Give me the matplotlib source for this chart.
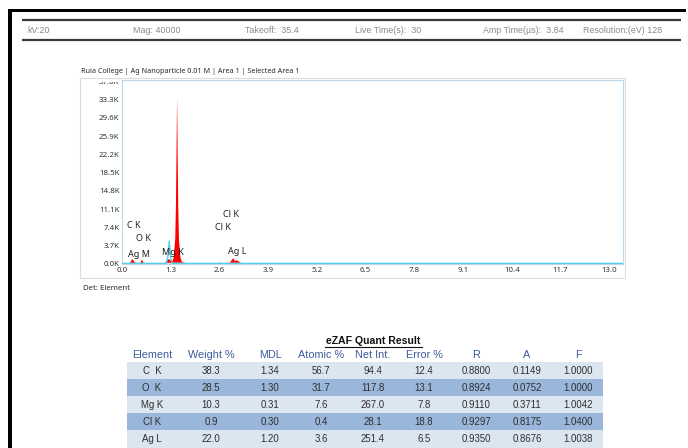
import matplotlib
matplotlib.use("Agg")
import matplotlib.pyplot as plt
import numpy as np
from matplotlib.patches import Rectangle
from matplotlib.transforms import Bbox, TransformedBbox

# ---------------- data ----------------
header_labels = ["kV:20", "Mag: 40000", "Takeoff:  35.4", "Live Time(s):  30",
                 "Amp Time(\u00b5s):  3.84", "Resolution:(eV) 128"]
chart_title = "Ruia College | Ag Nanoparticle 0.01 M | Area 1 | Selected Area 1"

spec_energy = [0.00, 0.15, 0.22, 0.28, 0.34, 0.45, 0.50, 0.53, 0.57, 0.70,
               1.15, 1.20, 1.25, 1.30, 1.34, 1.38, 1.42, 1.44, 1.47, 1.50,
               1.52, 1.56, 1.60, 1.70, 2.60, 2.62, 2.66, 2.88, 2.93, 2.97,
               3.01, 3.07, 3.12, 3.16, 3.22, 3.50, 13.37]
spec_counts = [0, 150, 350, 1000, 350, 200, 350, 900, 300, 200,
               250, 700, 1000, 700, 500, 1300, 5000, 12000, 34000, 12000,
               5000, 1300, 400, 250, 200, 350, 200, 300, 800, 1200,
               600, 750, 500, 300, 200, 150, 0]

fit_energy = [0.00, 1.18, 1.22, 1.26, 1.30, 1.34, 13.37]
fit_counts = [120, 120, 1300, 4600, 1300, 120, 120]

label_text = ["C K", "O K", "Ag M", "Mg K", "Cl K", "Cl K", "Ag L"]
label_energy = [0.13, 0.37, 0.16, 1.07, 2.70, 2.48, 2.83]
label_counts = [7900, 5100, 2000, 2400, 10100, 7500, 2600]

xtick_vals = [0.0, 1.3, 2.6, 3.9, 5.2, 6.5, 7.8, 9.1, 10.4, 11.7, 13.0]
ytick_vals = [0, 3700, 7400, 11100, 14800, 18500, 22200, 25900, 29600, 33300, 37000]

table_title = "eZAF Quant Result"
table_columns = ["Element", "Weight %", "MDL", "Atomic %", "Net Int.", "Error %", "R", "A", "F"]
elements = ["C  K", "O  K", "Mg K", "Cl K", "Ag L"]
weight_pct = ["38.3", "28.5", "10.3", "0.9", "22.0"]
mdl = ["1.34", "1.30", "0.31", "0.30", "1.20"]
atomic_pct = ["56.7", "31.7", "7.6", "0.4", "3.6"]
net_int = ["94.4", "117.8", "267.0", "28.1", "251.4"]
error_pct = ["12.4", "13.1", "7.8", "18.8", "6.5"]
r_vals = ["0.8800", "0.8924", "0.9110", "0.9297", "0.9350"]
a_vals = ["0.1149", "0.0752", "0.3711", "0.8175", "0.8676"]
f_vals = ["1.0000", "1.0000", "1.0042", "1.0400", "1.0038"]

# ---------------- figure ----------------
W, H = 688, 448
fig = plt.figure(figsize=(W / 100, H / 100), dpi=100)
bg = fig.add_axes([0, 0, 1, 1])
bg.set_xlim(0, W)
bg.set_ylim(H, 0)
bg.axis("off")

# black frame (top and left)
bg.add_patch(Rectangle((8, 9), 678, 3.5, color="black", lw=0))
bg.add_patch(Rectangle((8, 9), 4, H, color="black", lw=0))

# header lines and text
for yy in (20.5, 40):
    bg.plot([22, 681], [yy, yy], color="#3a3a3a", lw=1.6, solid_capstyle="butt")
header_x = [27, 133, 245, 355, 483, 583]
for t, x in zip(header_labels, header_x):
    bg.text(x, 30.5, t, fontsize=6.4, color="#8a8a8a", family="Liberation Sans",
            ha="left", va="center")

# chart outer box
bg.add_patch(Rectangle((80, 78), 545, 200, fill=False, ec="#dcdcdc", lw=0.8))
bg.text(81, 71.5, chart_title, fontsize=5.2, color="#2a2a2a", family="Noto Sans",
        ha="left", va="center")
bg.text(83, 288, "Det: Element", fontsize=5.6, color="#2a2a2a", family="Noto Sans",
        ha="left", va="center")

# table
col_x = [152, 211, 270, 321, 373, 424, 476, 527, 578]
row_y = [371, 388, 405, 422, 439]
row_cols = ["#dce6f1", "#9ab6da"]
for i, yy in enumerate(row_y):
    bg.add_patch(Rectangle((127, yy - 8.6), 476, 17.2, color=row_cols[i % 2], lw=0))
bg.text(373, 341.5, table_title, fontsize=7.6, fontweight="bold", color="#111111",
        family="Liberation Sans", ha="center", va="center")
bg.plot([325, 422], [347, 347], color="#111111", lw=0.8)
for c, x in zip(table_columns, col_x):
    bg.text(x, 355, c, fontsize=7.8, color="#3b5b9a", family="Liberation Sans",
            ha="center", va="center")
cols = [elements, weight_pct, mdl, atomic_pct, net_int, error_pct, r_vals, a_vals, f_vals]
for ci, col in enumerate(cols):
    for ri, v in enumerate(col):
        bg.text(col_x[ci], row_y[ri], v, fontsize=6.9, color="#2e2e2e",
                family="Liberation Sans", ha="center", va="center")

# ---------------- spectrum axes ----------------
left, right, top, bottom = 122, 623, 80, 264
ax = fig.add_axes([left / W, (H - bottom) / H, (right - left) / W, (bottom - top) / H])
ax.set_xlim(0, 13.37)
ax.set_ylim(0, 37300)
ax.set_facecolor("white")
for s in ax.spines.values():
    s.set_color("#b9d9ea")
    s.set_linewidth(0.8)

e = np.array(spec_energy)
c = np.array(spec_counts)
base = 250
ax.fill_between(e, 0, np.minimum(c, base), color="#c9c9c9", lw=0)
ax.fill_between(e, base, c, where=c > base, interpolate=True, color="#ff0000", lw=0)
ax.plot(fit_energy, fit_counts, color="#4fcfe8", lw=1.0, zorder=3)

for t, x, y in zip(label_text, label_energy, label_counts):
    ax.text(x, y, t, fontsize=6.5, fontweight="bold", color="#222222",
            family="Noto Sans", ha="left", va="center", zorder=4)

ax.set_xticks(xtick_vals)
ax.set_xticklabels([f"{v:.1f}" for v in xtick_vals])
ax.set_yticks(ytick_vals)
ax.set_yticklabels([f"{v/1000:.1f}K" for v in ytick_vals])
ax.tick_params(length=0, labelsize=5.7, labelcolor="#333333", pad=1.8)
for lbl in ax.get_xticklabels() + ax.get_yticklabels():
    lbl.set_family("Noto Sans")

clip = TransformedBbox(Bbox([[0, 0], [1, (H - 82) / H]]), fig.transFigure)
for lbl in ax.get_yticklabels():
    lbl.set_clip_box(clip)
    lbl.set_clip_on(True)

fig.savefig("out.png", dpi=100)
